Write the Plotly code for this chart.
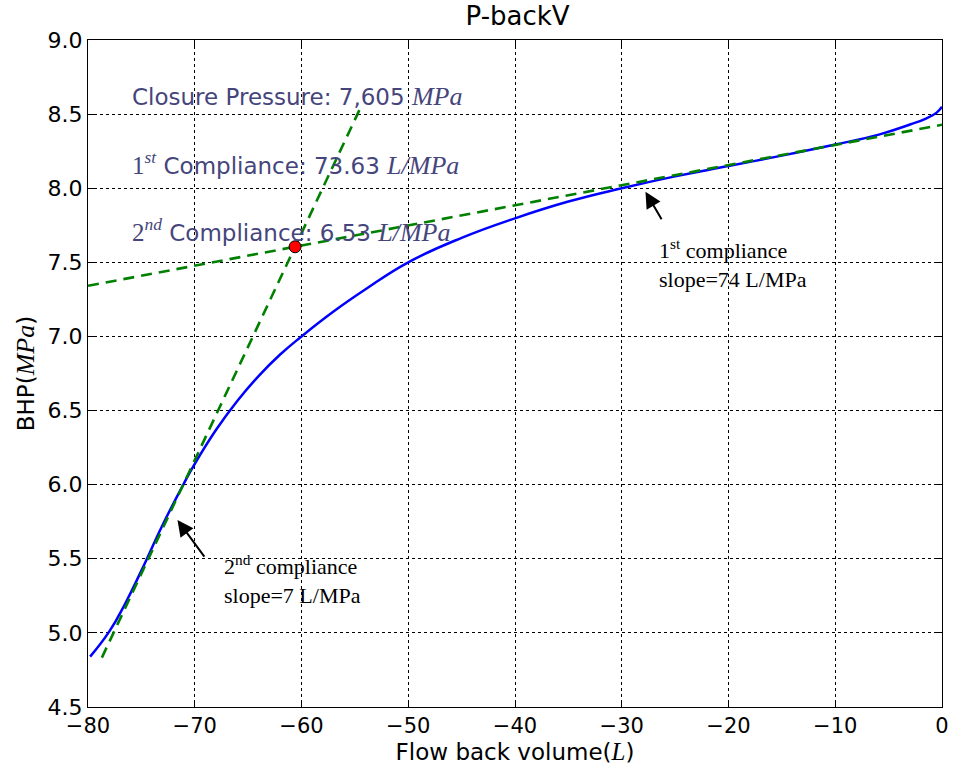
import plotly.graph_objects as go

# Measured bottom-hole pressure vs. flow-back volume
volume = [-79.8, -78.0, -76.5, -75.0, -73.0, -71.0, -70.0, -68.0, -66.0, -64.0,
          -62.0, -60.0, -57.0, -54.0, -50.0, -45.0, -40.0, -35.0, -30.0, -25.0,
          -20.0, -15.0, -10.0, -6.0, -3.0, -1.5, -0.5, 0.0]
bhp = [4.84, 5.01, 5.20, 5.42, 5.73, 6.01, 6.14, 6.37, 6.566, 6.734,
       6.878, 7.00, 7.168, 7.318, 7.50, 7.665, 7.797, 7.91, 8.00, 8.08,
       8.15, 8.22, 8.295, 8.36, 8.43, 8.47, 8.51, 8.55]

# Fitted results
closure_pressure = 7.605      # MPa
closure_volume = -60.6        # L
compliance_1 = 73.63          # L/MPa
compliance_2 = 6.53           # L/MPa

# x extents of the two tangent lines
line1_x = [-80.0, 0.0]
line2_x = [-78.7, -54.4]

x_ticks = [-80, -70, -60, -50, -40, -30, -20, -10, 0]
y_ticks = [4.5, 5.0, 5.5, 6.0, 6.5, 7.0, 7.5, 8.0, 8.5, 9.0]


def tangent(xs, compliance):
    return [closure_pressure + (x - closure_volume) / compliance for x in xs]


SANS = "DejaVu Sans"
SERIF = "Liberation Serif"
TXT = "#45457c"

fig = go.Figure()

fig.add_trace(go.Scatter(
    x=volume, y=bhp, mode="lines",
    line=dict(color="#0000ff", width=2.5, shape="spline", smoothing=1.3),
    showlegend=False, hoverinfo="skip"))

fig.add_trace(go.Scatter(
    x=line1_x, y=tangent(line1_x, compliance_1), mode="lines",
    line=dict(color="#008000", width=2.6, dash="11px,7px"),
    showlegend=False, hoverinfo="skip"))

fig.add_trace(go.Scatter(
    x=line2_x, y=tangent(line2_x, compliance_2), mode="lines",
    line=dict(color="#008000", width=2.6, dash="11px,7px"),
    showlegend=False, hoverinfo="skip"))

fig.add_trace(go.Scatter(
    x=[closure_volume], y=[closure_pressure], mode="markers",
    marker=dict(color="#ff0000", size=12, line=dict(color="black", width=1)),
    showlegend=False, hoverinfo="skip"))


def mi(s, size):
    return f"<span style='font-family:{SERIF};font-size:{size}px'><i>{s}</i></span>"


def sr(s, size):
    return f"<span style='font-family:{SERIF};font-size:{size}px'>{s}</span>"


inset = [
    (8.617, f"Closure Pressure: {closure_pressure:.3f}".replace(".", ",") + " " + mi("MPa", 26)),
    (8.168, sr("1<sup><i>st</i></sup>", 25) + f" Compliance: {compliance_1:.2f} " + mi("L/MPa", 26)),
    (7.718, sr("2<sup><i>nd</i></sup>", 25) + f" Compliance: {compliance_2:.2f} " + mi("L/MPa", 26)),
]
for yv, txt in inset:
    fig.add_annotation(x=-76.07, y=yv, text=txt, showarrow=False,
                       xanchor="left", yanchor="middle",
                       font=dict(family=SANS, size=23, color=TXT))

# Callouts
fig.add_annotation(x=-26.73, y=7.49, showarrow=False, xanchor="left", yanchor="middle",
                   align="left",
                   text="1<sup>st</sup> compliance<br>slope=74 L/MPa",
                   font=dict(family=SERIF, size=22, color="black"))
fig.add_annotation(x=-67.46, y=5.36, showarrow=False, xanchor="left", yanchor="middle",
                   align="left",
                   text="2<sup>nd</sup> compliance<br>slope=7 L/MPa",
                   font=dict(family=SERIF, size=22, color="black"))

fig.add_annotation(x=-27.78, y=7.976, ax=17, ay=29, text="", showarrow=True,
                   arrowhead=2, arrowsize=1.6, arrowwidth=2, arrowcolor="black")
fig.add_annotation(x=-71.62, y=5.761, ax=28, ay=38, text="", showarrow=True,
                   arrowhead=2, arrowsize=1.6, arrowwidth=2, arrowcolor="black")

axis_common = dict(
    showline=True, linecolor="black", linewidth=1.3, mirror="ticks",
    ticks="inside", ticklen=6, tickcolor="black", tickwidth=1,
    showgrid=True, gridcolor="black", gridwidth=1, griddash="3px,3px",
    zeroline=False,
)

fig.update_xaxes(range=[-80, 0], tickvals=x_ticks,
                 tickfont=dict(family=SANS, size=21, color="black"),
                 title=dict(text="Flow back volume(" + mi("L", 25) + ")",
                            font=dict(family=SANS, size=23, color="black"),
                            standoff=2),
                 **axis_common)
fig.update_yaxes(range=[4.5, 9.0], tickvals=y_ticks, tickformat=".1f",
                 tickfont=dict(family=SANS, size=22, color="black"),
                 title=dict(text="BHP(" + mi("MPa", 26) + ")",
                            font=dict(family=SANS, size=23, color="black"),
                            standoff=6),
                 **axis_common)

fig.update_layout(
    width=961, height=770,
    margin=dict(l=88, r=14, t=40, b=63),
    paper_bgcolor="white", plot_bgcolor="white",
    title=dict(text="P-backV", x=0.5386, xanchor="center",
               y=1 - 16 / 770, yref="container", yanchor="middle",
               font=dict(family=SANS, size=26, color="black")),
)

fig.write_html("out.html")
